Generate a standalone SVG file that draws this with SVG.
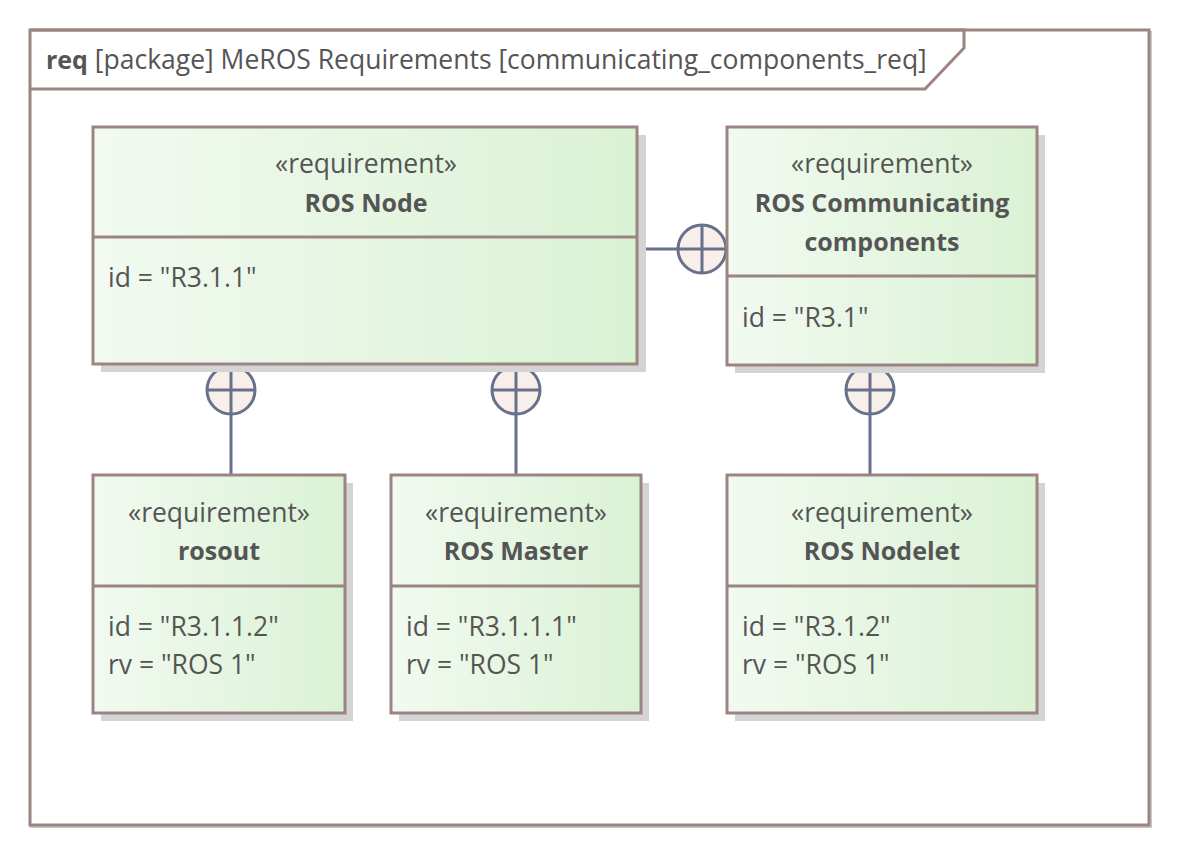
<svg xmlns="http://www.w3.org/2000/svg" width="1179" height="855" viewBox="0 0 1179 855">
<defs>
<linearGradient id="g" x1="0" y1="0" x2="1" y2="0">
<stop offset="0" stop-color="#f2faf1"/>
<stop offset="1" stop-color="#daf2d4"/>
</linearGradient>
<style>
.box{fill:url(#g);stroke:#9c8482;stroke-width:3}
.sh{fill:#d4d4d4}
.div{stroke:#9c8482;stroke-width:3}
.t{font-family:"Open Sans","Noto Sans",sans-serif;font-size:26.5px;fill:#555555}
.c{text-anchor:middle}
.b{font-weight:bold;font-size:25px}
.con{stroke:#68718c;stroke-width:3;fill:none}
.circ{fill:#f8eeea;stroke:#68718c;stroke-width:3}
</style>
</defs>
<rect width="1179" height="855" fill="#ffffff"/>
<g id="frame">
<rect x="31" y="32" width="1120" height="795" fill="none" stroke="#c8c8c8" stroke-width="2"/>
<rect x="30" y="30" width="1119" height="795" fill="#ffffff" stroke="#9c8482" stroke-width="3"/>
<path d="M30,30 H964 V48 L925,89 H30" fill="none" stroke="#9c8482" stroke-width="3"/>
<text class="t" x="46" y="69"><tspan class="b">req</tspan> [package] MeROS Requirements [communicating_components_req]</text>
</g>
<g id="connectors">
<line class="con" x1="637" y1="249" x2="678" y2="249"/>
<circle class="circ" cx="702" cy="249" r="24"/>
<line class="con" x1="678" y1="249" x2="726" y2="249"/>
<line class="con" x1="702" y1="225" x2="702" y2="273"/>
<circle class="circ" cx="231" cy="390" r="24"/>
<line class="con" x1="207" y1="390" x2="255" y2="390"/>
<line class="con" x1="231" y1="366" x2="231" y2="475"/>
<circle class="circ" cx="516" cy="390" r="24"/>
<line class="con" x1="492" y1="390" x2="540" y2="390"/>
<line class="con" x1="516" y1="366" x2="516" y2="475"/>
<circle class="circ" cx="870" cy="390" r="24"/>
<line class="con" x1="846" y1="390" x2="894" y2="390"/>
<line class="con" x1="870" y1="366" x2="870" y2="475"/>
</g>
<g id="ros_node">
<rect class="sh" x="101" y="135" width="545" height="237"/>
<rect class="box" x="93" y="127" width="544" height="237"/>
<line class="div" x1="93" y1="237" x2="637" y2="237"/>
<text class="t c" x="366" y="173">«requirement»</text>
<text class="t c b" x="366" y="212">ROS Node</text>
<text class="t" x="108" y="287">id = "R3.1.1"</text>
</g>
<g id="ros_communicating_components">
<rect class="sh" x="735" y="135" width="310" height="238"/>
<rect class="box" x="727" y="127" width="310" height="238"/>
<line class="div" x1="727" y1="276" x2="1037" y2="276"/>
<text class="t c" x="882" y="173">«requirement»</text>
<text class="t c b" x="882" y="212">ROS Communicating</text>
<text class="t c b" x="882" y="251">components</text>
<text class="t" x="742" y="327">id = "R3.1"</text>
</g>
<g id="rosout">
<rect class="sh" x="101" y="483" width="252" height="238"/>
<rect class="box" x="93" y="475" width="252" height="238"/>
<line class="div" x1="93" y1="586" x2="345" y2="586"/>
<text class="t c" x="219" y="522">«requirement»</text>
<text class="t c b" x="219" y="560">rosout</text>
<text class="t" x="108" y="636">id = "R3.1.1.2"</text>
<text class="t" x="108" y="674">rv = "ROS 1"</text>
</g>
<g id="ros_master">
<rect class="sh" x="399" y="483" width="250" height="238"/>
<rect class="box" x="391" y="475" width="250" height="238"/>
<line class="div" x1="391" y1="586" x2="641" y2="586"/>
<text class="t c" x="516" y="522">«requirement»</text>
<text class="t c b" x="516" y="560">ROS Master</text>
<text class="t" x="406" y="636">id = "R3.1.1.1"</text>
<text class="t" x="406" y="674">rv = "ROS 1"</text>
</g>
<g id="ros_nodelet">
<rect class="sh" x="735" y="483" width="310" height="238"/>
<rect class="box" x="727" y="475" width="310" height="238"/>
<line class="div" x1="727" y1="586" x2="1037" y2="586"/>
<text class="t c" x="882" y="522">«requirement»</text>
<text class="t c b" x="882" y="560">ROS Nodelet</text>
<text class="t" x="742" y="636">id = "R3.1.2"</text>
<text class="t" x="742" y="674">rv = "ROS 1"</text>
</g>
</svg>
